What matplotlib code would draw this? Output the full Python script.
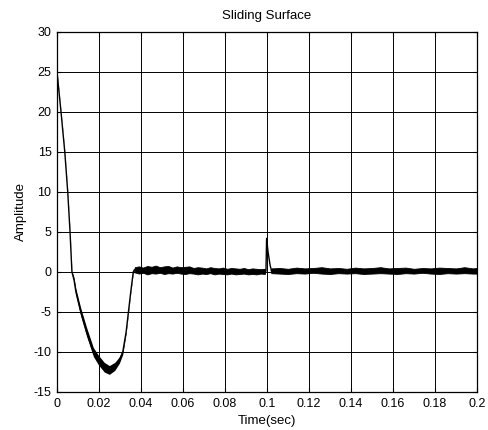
import numpy as np
import matplotlib
matplotlib.use("Agg")
import matplotlib.pyplot as plt

plt.rcParams['font.family'] = ['Liberation Sans', 'DejaVu Sans']
plt.rcParams['axes.unicode_minus'] = False

# reaching phase: centre line and half width of the band
t_reach = [0, 0.0019, 0.0037, 0.0051, 0.0062, 0.0071, 0.0081, 0.009, 0.0113, 0.0141,
           0.0173, 0.0197, 0.0225, 0.0249, 0.0275, 0.0297, 0.0313, 0.0329, 0.034,
           0.0351, 0.0363, 0.0368]
s_reach = [25, 20, 15, 10, 5, 0, -1.0, -2.5, -5, -7.5,
           -10, -11, -11.9, -12.25, -11.8, -11, -10, -7.5, -5,
           -2.5, 0, 0.25]
hw_reach = [0.1, 0.1, 0.1, 0.1, 0.1, 0.15, 0.3, 0.4, 0.5, 0.55,
            0.55, 0.6, 0.6, 0.55, 0.5, 0.4, 0.3, 0.2, 0.15,
            0.15, 0.15, 0.3]

# chattering band before the disturbance (upper / lower envelope)
t_ch1 = [0.037, 0.039, 0.041, 0.043, 0.045, 0.047, 0.049, 0.051, 0.053, 0.055,
         0.057, 0.059, 0.061, 0.063, 0.065, 0.067, 0.069, 0.071, 0.073, 0.075,
         0.077, 0.079, 0.081, 0.083, 0.085, 0.087, 0.089, 0.091, 0.093, 0.095,
         0.097, 0.099]
up_ch1 = [0.6, 0.7, 0.55, 0.75, 0.65, 0.8, 0.6, 0.7, 0.75, 0.55,
          0.7, 0.6, 0.65, 0.7, 0.5, 0.6, 0.55, 0.45, 0.6, 0.5,
          0.45, 0.55, 0.4, 0.5, 0.45, 0.4, 0.5, 0.35, 0.45, 0.4,
          0.35, 0.4]
lo_ch1 = [-0.05, -0.2, -0.1, -0.3, -0.15, -0.2, -0.1, -0.25, -0.15, -0.2,
          -0.1, -0.2, -0.25, -0.15, -0.2, -0.3, -0.2, -0.25, -0.15, -0.3,
          -0.2, -0.25, -0.3, -0.2, -0.3, -0.25, -0.2, -0.3, -0.25, -0.3,
          -0.2, -0.25]

# disturbance spike at t = 0.1
t_spike = [0.099, 0.0995, 0.0998, 0.1005, 0.1015, 0.1022]
s_spike = [0.05, 0.1, 4.2, 2.5, 0.8, 0.1]

# chattering band after the disturbance
t_ch2 = [0.102, 0.106, 0.110, 0.114, 0.118, 0.122, 0.126, 0.130, 0.134, 0.138,
         0.142, 0.146, 0.150, 0.154, 0.158, 0.162, 0.166, 0.170, 0.174, 0.178,
         0.182, 0.186, 0.190, 0.194, 0.198, 0.200]
up_ch2 = [0.45, 0.5, 0.4, 0.55, 0.45, 0.5, 0.6, 0.45, 0.5, 0.4,
          0.55, 0.45, 0.5, 0.6, 0.45, 0.5, 0.55, 0.4, 0.5, 0.45,
          0.55, 0.5, 0.45, 0.6, 0.45, 0.5]
lo_ch2 = [-0.15, -0.2, -0.25, -0.15, -0.2, -0.1, -0.2, -0.25, -0.15, -0.2,
          -0.15, -0.25, -0.2, -0.15, -0.2, -0.25, -0.15, -0.2, -0.1, -0.2,
          -0.25, -0.15, -0.2, -0.15, -0.2, -0.2]

x_ticks = [0, 0.02, 0.04, 0.06, 0.08, 0.1, 0.12, 0.14, 0.16, 0.18, 0.2]
x_labels = ['0', '0.02', '0.04', '0.06', '0.08', '0.1', '0.12', '0.14', '0.16', '0.18', '0.2']
y_ticks = [-15, -10, -5, 0, 5, 10, 15, 20, 25, 30]

t_reach = np.array(t_reach)
s_reach = np.array(s_reach)
hw_reach = np.array(hw_reach)
up_ch1, lo_ch1 = np.array(up_ch1), np.array(lo_ch1)
up_ch2, lo_ch2 = np.array(up_ch2), np.array(lo_ch2)

fig = plt.figure(figsize=(4.89, 4.30), dpi=100)
ax = fig.add_axes([0.1166, 0.0884, 0.8589, 0.8372])

k = 'black'
ax.fill_between(t_reach, s_reach - hw_reach, s_reach + hw_reach, color=k, linewidth=0)
ax.plot(t_reach, s_reach, color=k, linewidth=1.0)
ax.fill_between(t_ch1, lo_ch1, up_ch1, color=k, linewidth=0.6, edgecolor=k)
ax.plot(t_ch1, (up_ch1 + lo_ch1) / 2, color=k, linewidth=0.8)
ax.plot(t_spike, s_spike, color=k, linewidth=1.0)
ax.fill_between(t_ch2, lo_ch2, up_ch2, color=k, linewidth=0.6, edgecolor=k)
ax.plot(t_ch2, (up_ch2 + lo_ch2) / 2, color=k, linewidth=0.8)

ax.set_xlim(0, 0.2)
ax.set_ylim(-15, 30)
ax.set_xticks(x_ticks)
ax.set_xticklabels(x_labels)
ax.set_yticks(y_ticks)
ax.grid(True, color='black', linewidth=0.7, linestyle='-')
ax.tick_params(direction='in', top=True, right=True, length=3, labelsize=9, pad=4)
for sp in ax.spines.values():
    sp.set_linewidth(0.9)

ax.set_title('Sliding Surface', fontsize=9.5, pad=9)
ax.set_xlabel('Time(sec)', fontsize=9.5, labelpad=4)
ax.set_ylabel('Amplitude', fontsize=9.5, labelpad=5)

fig.savefig('out.png', dpi=100)
